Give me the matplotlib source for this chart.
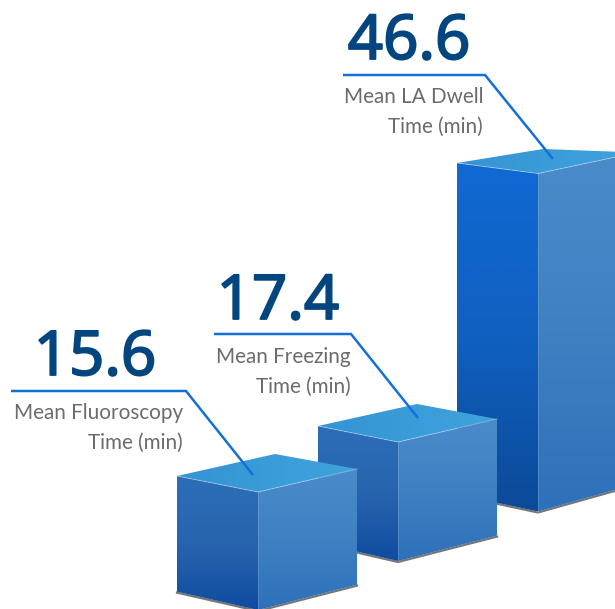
import numpy as np
import matplotlib
matplotlib.use("Agg")
import matplotlib.pyplot as plt
import matplotlib.patheffects as pe
from matplotlib.colors import LinearSegmentedColormap
from matplotlib.patches import Polygon

labels = ["Mean Fluoroscopy\nTime (min)", "Mean Freezing\nTime (min)", "Mean LA Dwell\nTime (min)"]
values = [15.6, 17.4, 46.6]

# the artwork is not drawn to scale, so heights go through a calibration
SCALE_VALUES = [0, 15.6, 17.4, 46.6]
SCALE_HEIGHTS = [0, 118, 119, 338]

# layout, in pixels of the 615x609 picture
LEFT_CORNERS = [(177, 476), (318, 426), (457, 163)]
FRONT_OFFSETS = [(81, 16), (80, 16), (81, 10.5)]
RIGHT_OFFSETS = [(99, -23), (99, -23), (99, -21)]
BACK_OFFSETS = [(98, -22), (99, -22), (86, -14)]
LEFT_TOP_COLORS = [
    ["#2b6eb8", "#2864ae", "#0f4c9e"],
    ["#2b6eb8", "#2864ae", "#0f4c9e"],
    ["#1069d2", "#1060c0", "#0b4a98"],
]
LEADERS = [
    [(11, 391), (186, 391), (253, 475)],
    [(214, 334), (351, 334), (418, 418)],
    [(343, 75), (485, 75), (553, 159)],
]
NUMBER_POS = [(95, 375), (278, 319), (409, 59)]
LABEL_POS = [(183, 449), (351, 393), (483, 133)]

BLUE_LINE = "#1470d8"
NUMBER_COLOR = "#03457f"
LABEL_COLOR = "#6b6b6b"
SHADOW = "#777777"
LABEL_FONT = ["Lato", "Noto Sans"]


def bar_height(value):
    return float(np.interp(value, SCALE_VALUES, SCALE_HEIGHTS))


def gradient_face(ax, points, colors, horizontal=False):
    points = np.array(points)
    cmap = LinearSegmentedColormap.from_list("face", colors)
    grad = np.linspace(0, 1, 256).reshape(-1, 1)
    if horizontal:
        grad = grad.T
    extent = [points[:, 0].min(), points[:, 0].max(), points[:, 1].max(), points[:, 1].min()]
    im = ax.imshow(grad, cmap=cmap, extent=extent, aspect="auto", origin="upper", zorder=2, interpolation="bilinear")
    patch = Polygon(points, closed=True, transform=ax.transData, facecolor="none", edgecolor="none")
    ax.add_patch(patch)
    im.set_clip_path(patch)


def draw_box(ax, corner, front_off, right_off, back_off, value, left_colors):
    h = bar_height(value)
    h_side = h * 0.98

    lx, ly = corner
    fx, fy = lx + front_off[0], ly + front_off[1]
    rx, ry = fx + right_off[0], fy + right_off[1]
    bx, by = lx + back_off[0], ly + back_off[1]

    ax.plot([lx, fx, rx], [ly + h_side + 1, fy + h + 1, ry + h_side + 1], color=SHADOW, lw=1.6, zorder=2,
            solid_joinstyle="miter")

    gradient_face(ax, [(lx, ly), (fx, fy), (fx, fy + h), (lx, ly + h_side)], left_colors)
    gradient_face(ax, [(fx, fy), (rx, ry), (rx, ry + h_side), (fx, fy + h)], ["#4a8cc9", "#3f80c3", "#2e71ba"])
    gradient_face(ax, [(lx, ly), (bx, by), (rx, ry), (fx, fy)], ["#3594d4", "#3fa3dd"], horizontal=True)

    ax.plot([lx, fx, rx], [ly, fy, ry], color="white", alpha=0.35, lw=0.7, zorder=2)
    ax.plot([fx, fx], [fy, fy + h], color="white", alpha=0.15, lw=0.7, zorder=2)


fig = plt.figure(figsize=(6.15, 6.09), dpi=100)
ax = fig.add_axes([0, 0, 1, 1])
ax.set_autoscale_on(False)
ax.set_xlim(0, 615)
ax.set_ylim(609, 0)
ax.axis("off")

for i in [2, 1, 0]:
    draw_box(ax, LEFT_CORNERS[i], FRONT_OFFSETS[i], RIGHT_OFFSETS[i], BACK_OFFSETS[i], values[i], LEFT_TOP_COLORS[i])

for pts in LEADERS:
    xs, ys = zip(*pts)
    ax.plot(xs, ys, color=BLUE_LINE, lw=1.8, zorder=3, solid_joinstyle="miter", solid_capstyle="butt")

for i in range(len(values)):
    nx, ny = NUMBER_POS[i]
    num = ax.text(nx, ny, f"{values[i]:.1f}", color=NUMBER_COLOR, fontsize=44.5,
                  family=["Noto Sans", "Open Sans"], ha="center", va="baseline", zorder=4)
    # installed Noto Sans only has regular weight here, thicken it a little
    num.set_path_effects([pe.withStroke(linewidth=1.3, foreground=NUMBER_COLOR)])
    lx, ly = LABEL_POS[i]
    first, second = labels[i].split("\n")
    ax.text(lx, ly - 30, first, color=LABEL_COLOR, fontsize=14.9, family=LABEL_FONT,
            ha="right", va="baseline", zorder=4)
    ax.text(lx, ly, second, color=LABEL_COLOR, fontsize=14.9, family=LABEL_FONT,
            ha="right", va="baseline", zorder=4)

fig.savefig("out.png", dpi=100)
